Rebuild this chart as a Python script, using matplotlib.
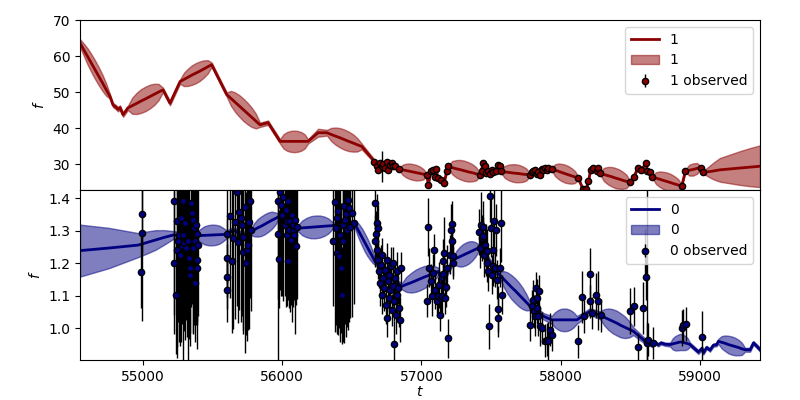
import numpy as np
import matplotlib
matplotlib.use('Agg')
import matplotlib.pyplot as plt

# ---- channel 1 (top): model prediction ----
t1_pred = [54550, 54577, 54604, 54631, 54658, 54685, 54712, 54738, 54765,
           54787, 54808, 54823, 54837, 54859, 54894,
           54925, 54957, 54988, 55020, 55052, 55083, 55114, 55146, 55196, 55268,
           55296, 55325, 55353, 55382, 55410, 55438, 55467, 55495, 55603,
           55633, 55663, 55693, 55722, 55752, 55782, 55812, 55842, 55900, 55986,
           56011, 56036, 56061, 56086, 56112, 56137, 56162, 56187, 56259, 56323,
           56354, 56385, 56416, 56447, 56479, 56510, 56541, 56572, 56654,
           56680, 56704, 56727, 56752, 56775, 56799, 56811, 56842,
           56867, 56891, 56916, 56940, 56965, 56990, 57014,
           57039, 57050, 57068, 57086, 57106, 57118, 57139, 57163, 57182, 57194,
           57222, 57251, 57279, 57308, 57336, 57365, 57393,
           57422, 57445, 57465, 57493, 57505, 57536, 57549, 57565, 57573,
           57599, 57625, 57651, 57676, 57702, 57728, 57754,
           57780, 57804, 57828, 57852, 57864, 57888, 57900, 57912, 57936,
           57960, 57984, 58008, 58031, 58055, 58079, 58103,
           58127, 58159, 58183, 58199, 58215, 58233, 58259, 58271, 58284,
           58311, 58338, 58365, 58391, 58418, 58445, 58472,
           58499, 58526, 58553, 58578, 58614, 58621, 58643, 58659,
           58685, 58711, 58738, 58764, 58790, 58816, 58843,
           58869, 58896, 58923, 58951, 58979, 59006, 59024, 59054, 59084, 59114, 59144,
           59216, 59288, 59360, 59431]
mu1 = [63.6, 61.75, 59.9, 58.05, 56.2, 54.35, 52.5, 50.65, 48.8,
       46.4, 45.8, 45.2, 45.7, 43.7, 45.6,
       46.2, 46.85, 47.5, 48.1, 48.75, 49.35, 50.0, 50.6, 46.9, 52.9,
       53.5, 54.1, 54.7, 55.25, 55.8, 56.4, 57.0, 57.6, 49.3,
       48.25, 47.2, 46.15, 45.1, 44.05, 43.0, 41.95, 40.9, 41.5, 36.3,
       36.3, 36.3, 36.3, 36.3, 36.3, 36.3, 36.3, 36.3, 38.7, 38.7,
       38.2, 37.75, 37.3, 36.8, 36.3, 35.85, 35.35, 34.9, 31.2,
       29.5, 30.2, 30.0, 30.2, 29.6, 29.4, 29.5, 28.6,
       28.4, 28.2, 28.0, 27.8, 27.6, 27.4, 27.2,
       27.0, 24.3, 27.9, 28.4, 28.7, 26.1, 25.6, 24.7, 27.9, 29.3,
       29.0, 28.7, 28.45, 28.15, 27.85, 27.6, 27.3,
       27.0, 30.3, 27.5, 27.3, 28.4, 27.9, 29.8, 29.3, 27.9,
       27.8, 27.7, 27.55, 27.45, 27.35, 27.2, 27.1,
       27.0, 27.9, 27.3, 27.0, 28.6, 28.9, 28.2, 28.9, 28.6,
       28.3, 28.0, 27.65, 27.35, 27.05, 26.7, 26.4,
       26.1, 23.1, 23.1, 25.2, 28.3, 28.9, 27.9, 28.9, 27.4,
       27.1, 26.8, 26.5, 26.15, 25.85, 25.5, 25.2,
       24.9, 26.4, 28.9, 28.3, 30.3, 28.1, 27.7, 26.4,
       26.1, 25.8, 25.45, 25.15, 24.85, 24.5, 24.2,
       23.9, 28.1, 28.3, 28.5, 28.8, 29.0, 27.7, 27.85, 28.0, 28.2, 28.4,
       28.65, 28.9, 29.15, 29.4]
sd1 = [1.1, 1.7, 2.25, 2.5, 2.6, 2.5, 2.25, 1.7, 0.6,
       0.6, 0.6, 0.6, 0.6, 0.6, 0.6,
       2.25, 2.95, 3.3, 3.4, 3.3, 2.95, 2.25, 0.6, 0.6, 0.6,
       1.85, 2.4, 2.7, 2.8, 2.7, 2.4, 1.85, 0.6, 0.6,
       2.05, 2.7, 3.0, 3.1, 3.0, 2.7, 2.05, 0.6, 0.6, 0.6,
       2.0, 2.6, 2.9, 3.0, 2.9, 2.6, 2.0, 0.6, 1.1, 0.8,
       1.85, 2.4, 2.7, 2.8, 2.7, 2.4, 1.85, 0.8, 0.5,
       0.4, 0.4, 0.4, 0.4, 0.4, 0.4, 0.4, 0.4,
       1.45, 1.9, 2.15, 2.2, 2.15, 1.9, 1.45,
       0.4, 0.4, 0.4, 0.4, 0.4, 0.4, 0.4, 0.4, 0.4, 0.4,
       1.85, 2.4, 2.7, 2.8, 2.7, 2.4, 1.85,
       0.4, 0.4, 0.4, 0.4, 0.4, 0.4, 0.4, 0.4, 0.4,
       1.65, 2.15, 2.4, 2.5, 2.4, 2.15, 1.65,
       0.4, 0.4, 0.4, 0.4, 0.4, 0.4, 0.4, 0.4, 0.4,
       1.65, 2.15, 2.4, 2.5, 2.4, 2.15, 1.65,
       0.4, 0.4, 0.4, 0.4, 0.4, 0.4, 0.4, 0.4, 0.4,
       1.85, 2.4, 2.7, 2.8, 2.7, 2.4, 1.85,
       0.4, 0.4, 0.4, 0.4, 0.4, 0.4, 0.4, 0.4,
       1.65, 2.15, 2.4, 2.5, 2.4, 2.15, 1.65,
       0.4, 0.4, 1.5, 1.7, 1.5, 0.4, 0.4, 1.2, 2.0, 2.7, 3.3,
       4.0, 4.7, 5.3, 5.8]

# ---- channel 1 (top): observations ----
t1_obs = [56663, 56680, 56691, 56704, 56716, 56727, 56739, 56752, 56763, 56775, 56787, 56799, 56811, 56842,
          57039, 57050, 57068, 57086, 57106, 57096, 57118, 57139, 57163, 57182, 57194,
          57422, 57434, 57445, 57457, 57465, 57481, 57493, 57505, 57517, 57536, 57549, 57565, 57572,
          57780, 57793, 57804, 57816, 57828, 57840, 57852, 57864, 57876, 57888, 57900, 57912, 57936,
          58127, 58159, 58183, 58199, 58215, 58233, 58259, 58271, 58284,
          58499, 58526, 58553, 58578, 58614, 58621, 58643, 58659,
          58869, 58896, 59006, 59024]
f1_obs = [30.44, 29.53, 28.42, 30.28, 29.33, 30.08, 28.89, 30.44, 28.22, 29.81, 30.28, 29.33, 29.53, 28.61,
          27.03, 24.25, 27.94, 28.42, 28.69, 26.36, 26.11, 25.64, 24.72, 27.94, 29.33,
          27.03, 27.94, 30.28, 29.33, 27.50, 27.94, 27.31, 28.42, 27.67, 27.94, 29.81, 29.33, 27.94,
          27.03, 27.67, 27.94, 28.22, 27.31, 27.67, 27.03, 28.61, 28.22, 28.89, 28.22, 28.89, 28.61,
          26.11, 23.06, 23.06, 25.17, 28.28, 28.89, 27.94, 28.89, 27.44,
          24.94, 26.42, 28.89, 28.31, 30.28, 28.06, 27.72, 26.39,
          23.89, 28.14, 29.03, 27.72]
e1_obs = [0.5, 0.5, 0.5, 0.5, 4.2, 0.5, 0.5, 0.5, 0.5, 0.5, 0.5, 0.5, 0.5, 0.5,
          0.5, 0.5, 0.5, 0.5, 0.5, 0.5, 0.5, 0.5, 0.5, 0.5, 0.5,
          0.5, 0.5, 0.5, 0.5, 0.5, 0.5, 0.5, 0.5, 0.5, 0.5, 0.5, 0.5, 0.5,
          0.5, 0.5, 0.5, 0.5, 0.5, 0.5, 0.5, 0.5, 0.5, 0.5, 0.5, 0.5, 0.5,
          0.5, 0.5, 0.5, 0.5, 0.5, 0.5, 0.5, 0.5, 0.5,
          0.5, 0.5, 0.5, 0.5, 0.5, 0.5, 0.5, 0.5,
          0.5, 0.5, 0.5, 0.5]

# ---- channel 0 (bottom): model prediction ----
t0_pred = [54550, 54758, 54968, 55031, 55094, 55157, 55220, 55300, 55390,
           55417, 55443, 55470, 55496, 55523, 55550, 55576, 55603, 55651, 55700, 55740, 55775,
           55800, 55825, 55850, 55875, 55899, 55925, 55949, 55974, 56070, 56115,
           56146, 56177, 56208, 56240, 56271, 56302, 56333, 56364, 56410, 56520,
           56539, 56557, 56576, 56594, 56613, 56631, 56650, 56668, 56760, 56859,
           56892, 56925, 56958, 56991, 57023, 57056, 57089, 57122, 57154, 57182, 57230,
           57252, 57275, 57297, 57320, 57342, 57364, 57387, 57409, 57434, 57481, 57529, 57565,
           57592, 57619, 57646, 57673, 57700, 57727, 57754, 57781, 57876, 57936,
           57958, 57981, 58003, 58026, 58048, 58071, 58093, 58116, 58175, 58211, 58283,
           58313, 58343, 58373, 58403, 58432, 58462, 58492, 58522, 58594, 58630, 58656,
           58678, 58699, 58721, 58750, 58786,
           58804, 58822, 58840, 58858, 58875, 58893, 58911, 58929, 58989, 59015, 59024,
           59048, 59072, 59096, 59120, 59132,
           59156, 59180, 59204, 59228, 59252, 59276, 59300, 59324, 59360, 59384, 59408, 59432]
mu0 = [1.239, 1.247, 1.256, 1.264, 1.272, 1.280, 1.287, 1.285, 1.285,
       1.2855, 1.286, 1.2865, 1.287, 1.2875, 1.288, 1.2885, 1.289, 1.302, 1.290, 1.287, 1.297,
       1.303, 1.309, 1.314, 1.320, 1.326, 1.332, 1.337, 1.343, 1.323, 1.308,
       1.309, 1.310, 1.311, 1.312, 1.313, 1.314, 1.315, 1.316, 1.319, 1.323,
       1.308, 1.294, 1.279, 1.264, 1.249, 1.235, 1.220, 1.205, 1.164, 1.129,
       1.135, 1.140, 1.146, 1.152, 1.158, 1.163, 1.169, 1.175, 1.136, 1.170, 1.211,
       1.2155, 1.220, 1.2245, 1.229, 1.2335, 1.238, 1.2425, 1.247, 1.232, 1.211, 1.180, 1.163,
       1.151, 1.139, 1.127, 1.116, 1.104, 1.092, 1.080, 1.068, 1.037, 1.026,
       1.026, 1.026, 1.026, 1.026, 1.026, 1.026, 1.026, 1.026, 1.042, 1.052, 1.040,
       1.034, 1.028, 1.022, 1.016, 1.009, 1.003, 0.997, 0.991, 0.965, 0.955, 0.947,
       0.958, 0.949, 0.955, 0.951, 0.950,
       0.952, 0.954, 0.956, 0.958, 0.957, 0.955, 0.953, 0.950, 0.927, 0.939, 0.924,
       0.941, 0.933, 0.948, 0.950, 0.960,
       0.957, 0.954, 0.950, 0.947, 0.944, 0.941, 0.937, 0.934, 0.934, 0.955, 0.945, 0.934]
sd0 = [0.080, 0.062, 0.037, 0.034, 0.030, 0.022, 0.012, 0.010, 0.012,
       0.021, 0.028, 0.031, 0.032, 0.031, 0.028, 0.021, 0.012, 0.010, 0.010, 0.010, 0.010,
       0.020, 0.027, 0.030, 0.031, 0.030, 0.027, 0.020, 0.010, 0.010, 0.010,
       0.023, 0.030, 0.034, 0.035, 0.034, 0.030, 0.023, 0.010, 0.010, 0.010,
       0.019, 0.024, 0.027, 0.028, 0.027, 0.024, 0.019, 0.010, 0.010, 0.009,
       0.023, 0.030, 0.034, 0.035, 0.034, 0.030, 0.023, 0.012, 0.010, 0.010, 0.012,
       0.023, 0.030, 0.034, 0.035, 0.034, 0.030, 0.023, 0.012, 0.010, 0.010, 0.010, 0.012,
       0.025, 0.033, 0.037, 0.038, 0.037, 0.033, 0.025, 0.012, 0.010, 0.012,
       0.023, 0.030, 0.034, 0.035, 0.034, 0.030, 0.023, 0.012, 0.010, 0.010, 0.012,
       0.025, 0.033, 0.037, 0.038, 0.037, 0.033, 0.025, 0.012, 0.009, 0.006, 0.005,
       0.005, 0.005, 0.005, 0.005, 0.006,
       0.017, 0.022, 0.024, 0.025, 0.024, 0.022, 0.017, 0.006, 0.006, 0.005, 0.005,
       0.005, 0.005, 0.005, 0.005, 0.008,
       0.019, 0.024, 0.027, 0.028, 0.027, 0.024, 0.019, 0.006, 0.006, 0.006, 0.006, 0.006]

# ---- channel 0 (bottom): observations ----
t0_obs = [54985, 54997, 54997,
          55225, 55227, 55239, 55244, 55249, 55256, 55263, 55268, 55273, 55280, 55287, 55292,
          55297, 55304, 55311, 55316, 55328, 55335, 55337, 55340, 55344, 55352, 55359, 55364,
          55368, 55376, 55383, 55388, 55390, 55376, 55392, 55399,
          55603, 55603, 55604, 55603, 55627, 55639, 55651, 55663, 55675, 55687, 55694, 55703,
          55711, 55718, 55723, 55735, 55742, 55746, 55758, 55766, 55770, 55775,
          55974, 55974, 55975, 55986, 55990, 55998, 56010, 56022, 56029, 56034, 56038, 56046,
          56046, 56053, 56057, 56062, 56069, 56077, 56081, 56089, 56093, 56098, 56105,
          56364, 56381, 56388, 56393, 56397, 56404, 56412, 56416, 56421, 56428, 56436, 56440,
          56445, 56452, 56459, 56464, 56476, 56483, 56488, 56500, 56517,
          56667, 56668, 56675, 56680, 56684, 56687, 56692, 56699, 56704, 56708, 56716, 56720,
          56728, 56732, 56740, 56747, 56751, 56756, 56761, 56766, 56771, 56775, 56780, 56787,
          56795, 56799, 56804, 56807, 56811, 56816, 56823, 56828, 56835, 56842, 56847, 56852,
          57043, 57051, 57058, 57067, 57074, 57086, 57091, 57098, 57110, 57122, 57129, 57134,
          57139, 57146, 57153, 57158, 57163, 57170, 57177, 57182, 57194, 57206, 57213, 57218,
          57223, 57225, 57230,
          57417, 57421, 57426, 57433, 57441, 57445, 57450, 57457, 57464, 57469, 57474, 57481,
          57488, 57493, 57498, 57505, 57512, 57517, 57522, 57529, 57536, 57546, 57551, 57553,
          57565, 57575, 57577,
          57780, 57792, 57800, 57809, 57816, 57823, 57828, 57833, 57840, 57847, 57852, 57864,
          57888, 57900, 57912, 57924, 57936,
          58127, 58151, 58168, 58212, 58213, 58223, 58254, 58271, 58288, 58498, 58530, 58558,
          58589, 58606, 58613, 58618, 58620, 58630, 58661, 58869, 58881, 58900, 59013]
f0_obs = [1.173, 1.352, 1.293,
          1.391, 1.201, 1.101, 1.329, 1.242, 1.268, 1.288, 1.227, 1.339, 1.252, 1.391, 1.288,
          1.262, 1.324, 1.247, 1.273, 1.268, 1.216, 1.186, 1.165, 1.386, 1.355, 1.247, 1.334,
          1.309, 1.268, 1.319, 1.211, 1.186, 1.139, 1.290, 1.257,
          1.289, 1.217, 1.159, 1.118, 1.344, 1.207, 1.277, 1.328, 1.420, 1.267, 1.357, 1.338,
          1.318, 1.236, 1.282, 1.374, 1.200, 1.241, 1.256, 1.328, 1.392, 1.302,
          1.391, 1.290, 1.213, 1.419, 1.380, 1.350, 1.403, 1.319, 1.365, 1.329, 1.288, 1.391,
          1.208, 1.303, 1.329, 1.273, 1.350, 1.298, 1.317, 1.288, 1.334, 1.252, 1.311,
          1.270, 1.389, 1.309, 1.232, 1.339, 1.360, 1.221, 1.288, 1.186, 1.101, 1.268, 1.319,
          1.375, 1.334, 1.352, 1.303, 1.396, 1.370, 1.311, 1.355, 1.324,
          1.268, 1.386, 1.290, 1.324, 1.242, 1.309, 1.211, 1.175, 1.139, 1.196, 1.227, 1.103,
          1.155, 1.124, 1.180, 1.073, 1.211, 1.032, 1.145, 1.093, 1.165, 1.119, 1.191, 1.057,
          1.129, 1.201, 1.083, 0.952, 1.155, 1.042, 1.103, 1.175, 1.124, 1.063, 1.027, 1.186,
          1.085, 1.311, 1.186, 1.147, 1.098, 1.170, 1.241, 1.119, 1.085, 1.098, 1.134, 1.042,
          1.093, 1.098, 1.167, 1.206, 1.232, 1.093, 1.126, 1.186, 0.970, 1.227, 1.303, 1.321,
          1.270, 1.201, 1.221,
          1.296, 1.247, 1.319, 1.278, 1.311, 1.283, 1.227, 1.257, 1.242, 1.201, 1.237, 1.175,
          1.006, 1.406, 1.309, 1.165, 1.242, 1.191, 1.331, 1.186, 1.303, 1.150, 1.032, 1.060,
          1.186, 1.324, 1.103,
          1.011, 1.068, 1.088, 1.052, 1.037, 1.124, 1.093, 1.062, 1.037, 1.114, 1.006, 1.001,
          0.962, 0.965, 0.960, 0.996, 0.980,
          0.960, 1.095, 1.037, 1.167, 1.083, 1.047, 1.101, 1.085, 1.040, 1.054, 1.068, 0.941,
          1.064, 1.237, 1.157, 0.960, 0.955, 0.965, 0.955, 1.001, 1.009, 1.013, 0.972]
e0_obs = [0.11, 0.12, 0.27,
          0.35, 0.22, 0.18, 0.42, 0.30, 0.25, 0.33, 0.28, 0.38, 0.24, 0.30, 0.45,
          0.27, 0.36, 0.22, 0.30, 0.40, 0.25, 0.20, 0.22, 0.32, 0.28, 0.26, 0.35,
          0.30, 0.24, 0.31, 0.20, 0.25, 0.18, 0.27, 0.22,
          0.15, 0.12, 0.10, 0.10, 0.25, 0.22, 0.28, 0.30, 0.35, 0.25, 0.30, 0.32,
          0.28, 0.24, 0.30, 0.45, 0.22, 0.28, 0.26, 0.33, 0.30, 0.25,
          0.50, 0.20, 0.15, 0.30, 0.28, 0.25, 0.32, 0.22, 0.30, 0.26, 0.20, 0.30,
          0.12, 0.24, 0.28, 0.20, 0.33, 0.22, 0.25, 0.20, 0.35, 0.18, 0.22,
          0.20, 0.40, 0.30, 0.25, 0.35, 0.38, 0.22, 0.33, 0.20, 0.15, 0.30, 0.36,
          0.42, 0.32, 0.38, 0.30, 0.40, 0.35, 0.28, 0.32, 0.25,
          0.08, 0.12, 0.07, 0.09, 0.06, 0.07, 0.06, 0.05, 0.07, 0.06, 0.05, 0.06,
          0.05, 0.07, 0.05, 0.06, 0.05, 0.06, 0.05, 0.06, 0.05, 0.07, 0.06, 0.05,
          0.06, 0.05, 0.06, 0.07, 0.05, 0.06, 0.05, 0.06, 0.05, 0.06, 0.07, 0.05,
          0.05, 0.09, 0.06, 0.05, 0.06, 0.06, 0.05, 0.06, 0.05, 0.06, 0.07, 0.05,
          0.06, 0.05, 0.06, 0.07, 0.11, 0.05, 0.06, 0.07, 0.06, 0.06, 0.08, 0.07,
          0.06, 0.05, 0.06,
          0.07, 0.06, 0.10, 0.07, 0.08, 0.06, 0.07, 0.06, 0.08, 0.06, 0.07, 0.06,
          0.07, 0.08, 0.09, 0.06, 0.07, 0.06, 0.10, 0.06, 0.08, 0.06, 0.06, 0.07,
          0.06, 0.12, 0.06,
          0.05, 0.05, 0.06, 0.05, 0.06, 0.05, 0.06, 0.05, 0.06, 0.05, 0.06, 0.05,
          0.05, 0.05, 0.06, 0.05, 0.05,
          0.05, 0.08, 0.05, 0.08, 0.05, 0.05, 0.07, 0.09, 0.05, 0.07, 0.06, 0.045,
          0.08, 0.07, 0.07, 0.06, 0.60, 0.05, 0.05, 0.055, 0.05, 0.053, 0.08]

t1_pred, mu1, sd1 = np.array(t1_pred), np.array(mu1), np.array(sd1)
t0_pred, mu0, sd0 = np.array(t0_pred), np.array(mu0), np.array(sd0)

fig, (ax1, ax0) = plt.subplots(2, 1, sharex=True, figsize=(8, 4), dpi=100)
fig.subplots_adjust(left=0.1, right=0.95, top=0.95, bottom=0.1, hspace=0)

ax1.plot(t1_pred, mu1, color='darkred', lw=2, label='1')
ax1.fill_between(t1_pred, mu1 - sd1, mu1 + sd1, color='darkred', alpha=0.5, label='1')
ax1.errorbar(t1_obs, f1_obs, yerr=e1_obs, fmt='o', color='darkred', ecolor='k',
             mec='k', ms=4.5, elinewidth=1, label='1 observed')
ax1.set_ylim(22.8, 70)
ax1.set_ylabel('$f$')
ax1.legend(loc='upper right')

ax0.plot(t0_pred, mu0, color='navy', lw=2, label='0')
ax0.fill_between(t0_pred, mu0 - sd0, mu0 + sd0, color='navy', alpha=0.5, label='0')
ax0.errorbar(t0_obs, f0_obs, yerr=e0_obs, fmt='o', color='navy', ecolor='k',
             mec='k', ms=4.5, elinewidth=1, label='0 observed')
ax0.set_ylim(0.9025, 1.4255)
ax0.set_ylabel('$f$')
ax0.set_xlabel('$t$', labelpad=1)
ax0.legend(loc='upper right')

ax0.set_xlim(54550, 59431)

plt.savefig('out.png')
